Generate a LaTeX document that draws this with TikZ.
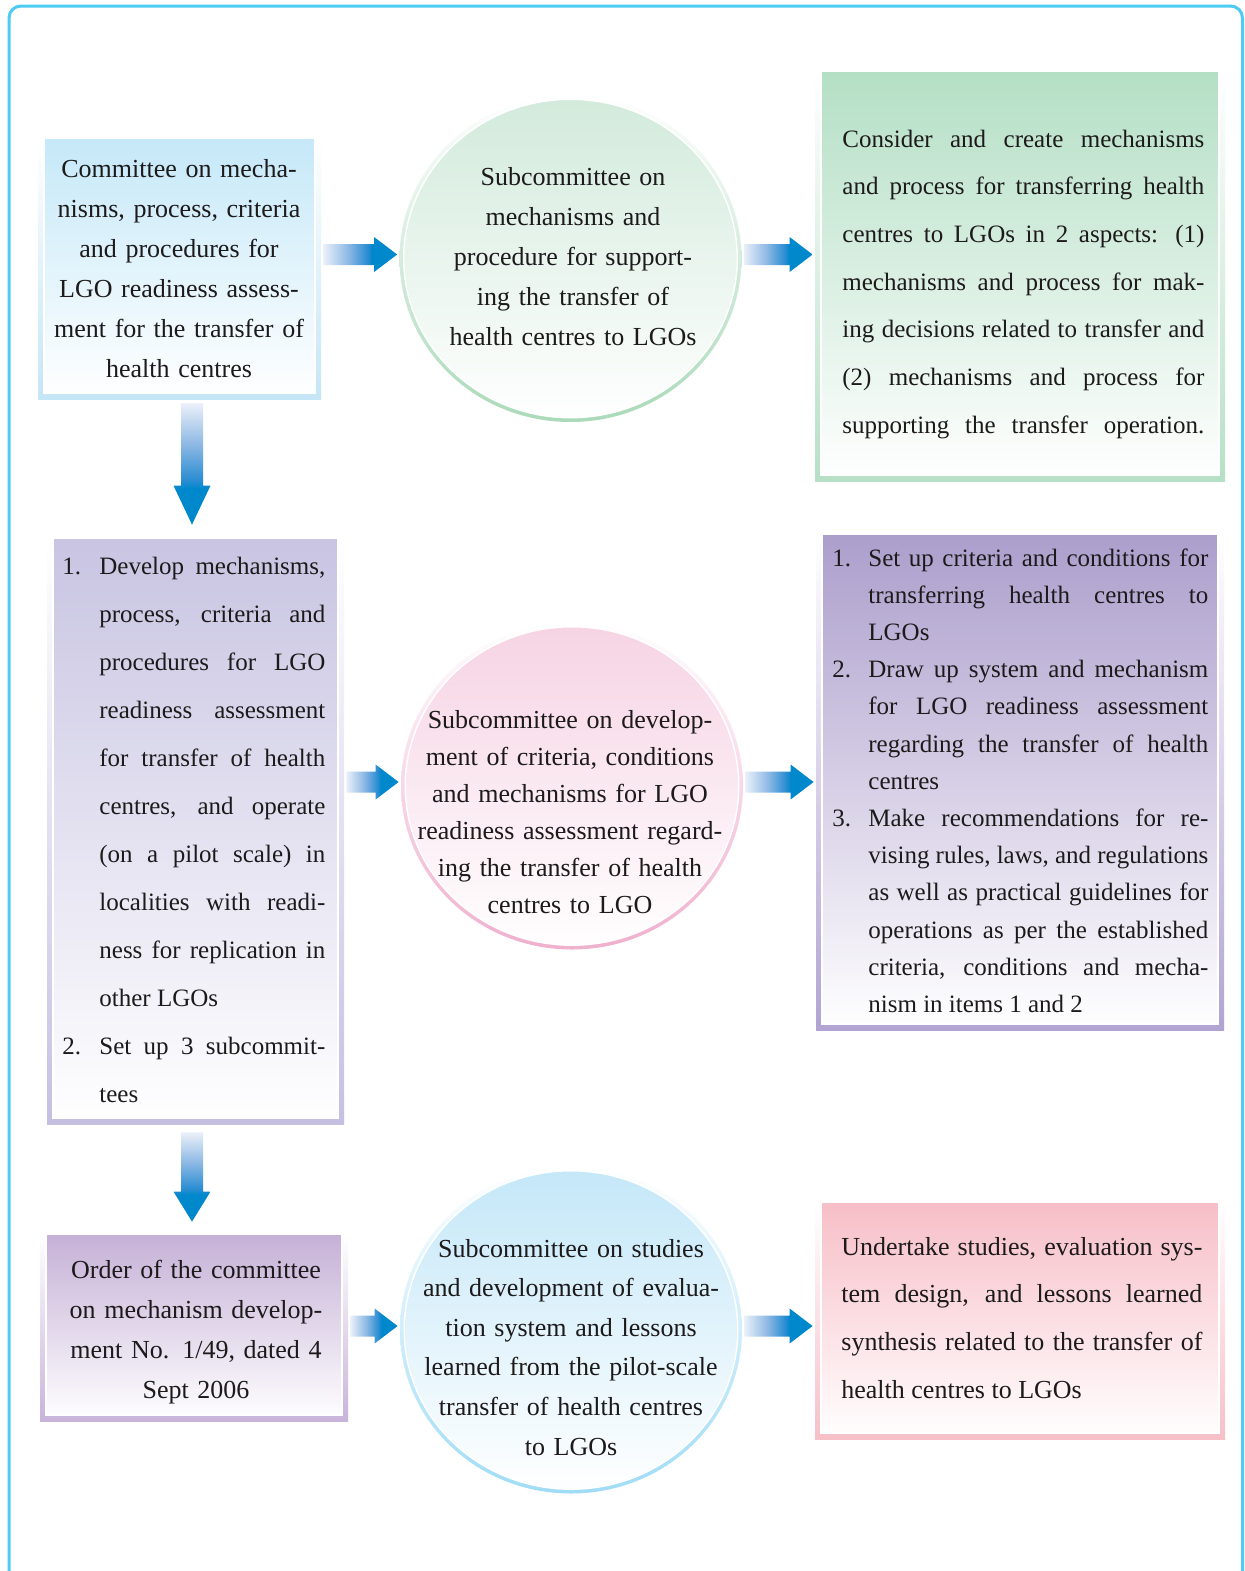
\documentclass[tikz,border=0pt]{standalone}
\usepackage{fontspec}
\setmainfont{Liberation Serif}
\usetikzlibrary{calc,shapes.geometric}

% palette
\definecolor{framecol}{RGB}{77,203,242}
\definecolor{ink}{RGB}{28,26,27}
\definecolor{flowpale}{RGB}{234,240,249}
\definecolor{flowmid}{RGB}{140,184,228}
\definecolor{flowdeep}{RGB}{40,140,210}
\definecolor{flowblue}{RGB}{0,136,204}
\definecolor{rimA}{RGB}{197,230,246}
\definecolor{fillA}{RGB}{197,232,248}
\definecolor{rimB}{RGB}{170,218,185}
\definecolor{fillB}{RGB}{210,234,219}
\definecolor{rimC}{RGB}{182,224,198}
\definecolor{fillC}{RGB}{180,223,197}
\definecolor{rimD}{RGB}{197,192,226}
\definecolor{fillD}{RGB}{200,196,226}
\definecolor{rimE}{RGB}{240,176,206}
\definecolor{fillE}{RGB}{246,211,227}
\definecolor{rimF}{RGB}{178,164,210}
\definecolor{fillF}{RGB}{172,158,204}
\definecolor{rimG}{RGB}{200,180,218}
\definecolor{fillG}{RGB}{197,176,214}
\definecolor{rimH}{RGB}{160,220,246}
\definecolor{fillH}{RGB}{196,231,248}
\definecolor{rimI}{RGB}{247,192,200}
\definecolor{fillI}{RGB}{247,190,199}

% arrow shadings: pale tail, solid blue head
\pgfdeclarehorizontalshading{flowH}{100bp}{color(0bp)=(flowpale); color(25bp)=(flowpale);
  color(42bp)=(flowmid); color(55bp)=(flowdeep); color(58bp)=(flowblue); color(100bp)=(flowblue)}
\pgfdeclareverticalshading{flowV}{100bp}{color(0bp)=(flowblue); color(40bp)=(flowblue);
  color(43bp)=(flowdeep); color(58bp)=(flowmid); color(75bp)=(flowpale); color(100bp)=(flowpale)}

\tolerance=10000
\hyphenpenalty=10000
\exhyphenpenalty=10000

\newcommand\leadfont[2]{\fontsize{#1}{#2}\selectfont}
\newcommand\numitem[2]{\hangindent=#1\hangafter=1 \noindent\makebox[#1][l]{#2}\ignorespaces}

% horizontal block arrow from node #1 to node #2, at the height of node #3
\newcommand\hflow[3]{%
  \shade[shading=flowH] let \p1=($(#1.east |- #3.center)+(1pt,2pt)$),
                           \p2=($(#2.west |- #3.center)+(-1pt,2pt)$) in
    (\x1,\y1+5.25pt) -- (\x2-11.5pt,\y1+5.25pt) -- (\x2-11.5pt,\y1+8.75pt) -- (\x2,\y1)
    -- (\x2-11.5pt,\y1-8.75pt) -- (\x2-11.5pt,\y1-5.25pt) -- (\x1,\y1-5.25pt) -- cycle;}
% vertical block arrow: from, to, x offset, top gap, bottom gap, head length
\newcommand\vflow[6]{%
  \shade[shading=flowV] let \p1=($(#1.south)+(#3,-#4)$), \p2=($(#2.north)+(0,#5)$) in
    (\x1-5.5pt,\y1) -- (\x1-5.5pt,\y2+#6) -- (\x1-9.25pt,\y2+#6) -- (\x1,\y2)
    -- (\x1+9.25pt,\y2+#6) -- (\x1+5.5pt,\y2+#6) -- (\x1+5.5pt,\y1) -- cycle;}

\tikzset{
  panel/.style 2 args={rectangle, inner sep=0pt, top color=white, bottom color=#1,
    path picture={\shade[top color=#2, bottom color=white, draw=white, line width=0.7pt]
      ([xshift=3pt,yshift=3pt]path picture bounding box.south west) rectangle
      ([xshift=-3pt,yshift=-0.6pt]path picture bounding box.north east);}},
  orb/.style 2 args={ellipse, inner sep=0pt, minimum width=171pt, minimum height=163.5pt,
    top color=white, bottom color=#1,
    path picture={\shade[top color=#2, bottom color=white, draw=white, line width=0.7pt]
      (path picture bounding box.center) ellipse [x radius=83.4pt, y radius=79.6pt];}},
  words/.style={inner sep=0pt, text=ink},
  midtext/.style={words, anchor=base, align=center, font=\leadfont{13}{#1}},
  bodytext/.style 2 args={words, anchor=base west, align=justify, font=\leadfont{#1}{#2}},
}

\begin{document}
\begin{tikzpicture}[x=0.5pt,y=-0.5pt]
\useasboundingbox (0,0) rectangle (1244,1571);
\clip (0,0) rectangle (1244,1571);
\fill[white] (0,0) rectangle (1244,1571);

% outer frame
\draw[framecol, line width=1.5pt, rounded corners=6pt] (9,6) rectangle (1242.5,1700);

% boxes and circles
\node[panel={rimA}{fillA}, minimum width=141.5pt, minimum height=131pt] (A) at (179.5,268) {};
\node[orb={rimB}{fillB}] (B) at (570.5,258.5) {};
\node[panel={rimC}{fillC}, minimum width=205pt, minimum height=205.5pt] (C) at (1020,275.5) {};
\node[panel={rimD}{fillD}, minimum width=148.5pt, minimum height=293.5pt] (D) at (195.5,830.5) {};
\node[orb={rimE}{fillE}] (E) at (572,786) {};
\node[panel={rimF}{fillF}, minimum width=204pt, minimum height=248.5pt] (F) at (1020,781.5) {};
\node[panel={rimG}{fillG}, minimum width=154pt, minimum height=94pt] (G) at (194,1327) {};
\node[orb={rimH}{fillH}] (H) at (571,1330) {};
\node[panel={rimI}{fillI}, minimum width=205pt, minimum height=119pt] (I) at (1020,1320) {};

% texts
\node[midtext=20pt, text width=150pt] (At) at (179,177)
  {Committee on mecha-\\nisms, process, criteria\\and procedures for\\LGO readiness assess-\\ment for the transfer of\\health centres};
\node[midtext=20pt, text width=160pt] (Bt) at (573,185)
  {Subcommittee on\\mechanisms and\\procedure for support-\\ing the transfer of\\health centres to LGOs};
\node[bodytext={12.5}{23.85pt}, text width=181pt] (Ct) at (842,147)
  {Consider and create mechanisms\linebreak and process for transferring health\linebreak
   centres to LGOs in 2 aspects: (1)\linebreak mechanisms and process for mak-\linebreak
   ing decisions related to transfer and\linebreak (2) mechanisms and process for\linebreak
   supporting the transfer operation.\parfillskip=0pt\par};
\node[bodytext={12.5}{24pt}, text width=131.5pt] (Dt) at (62,574)
  {\numitem{18.5pt}{1.}Develop mechanisms,\linebreak process, criteria and\linebreak procedures for LGO\linebreak
   readiness assessment\linebreak for transfer of health\linebreak centres, and operate\linebreak
   (on a pilot scale) in\linebreak localities with readi-\linebreak ness for replication in\linebreak other LGOs\par
   \numitem{18.5pt}{2.}Set up 3 subcommit-\linebreak tees\par};
\node[midtext=18.5pt, text width=170pt] (Et) at (570,728)
  {Subcommittee on develop-\\ment of criteria, conditions\\and mechanisms for LGO\\readiness assessment regard-\\ing the transfer of health\\centres to LGO};
\node[bodytext={12.5}{18.6pt}, text width=188pt] (Ft) at (832,566)
  {\numitem{18pt}{1.}Set up criteria and conditions for\linebreak transferring health centres to\linebreak LGOs\par
   \numitem{18pt}{2.}Draw up system and mechanism\linebreak for LGO readiness assessment\linebreak
   regarding the transfer of health\linebreak centres\par
   \numitem{18pt}{3.}Make recommendations for re-\linebreak vising rules, laws, and regulations\linebreak
   as well as practical guidelines for\linebreak operations as per the established\linebreak
   criteria, conditions and mecha-\linebreak nism in items 1 and 2\par};
\node[midtext=20pt, text width=155pt] (Gt) at (196,1278)
  {Order of the committee\\on mechanism develop-\\ment No. 1/49, dated 4\\Sept 2006};
\node[midtext=19.8pt, text width=170pt] (Ht) at (571,1257)
  {Subcommittee on studies\\and development of evalua-\\tion system and lessons\\learned from the pilot-scale\\transfer of health centres\\to LGOs};
\node[bodytext={13}{23.85pt}, text width=180.5pt] (It) at (841,1255)
  {Undertake studies, evaluation sys-\linebreak tem design, and lessons learned\linebreak
   synthesis related to the transfer of\linebreak health centres to LGOs\par};

% connecting arrows
\hflow{A}{B}{B}
\hflow{B}{C}{B}
\hflow{D}{E}{E}
\hflow{E}{F}{E}
\hflow{G}{H}{H}
\hflow{H}{I}{H}
\vflow{A}{D}{6.25pt}{2pt}{6pt}{19.5pt}
\vflow{D}{G}{-1.75pt}{4pt}{5.5pt}{15pt}
\end{tikzpicture}
\end{document}
